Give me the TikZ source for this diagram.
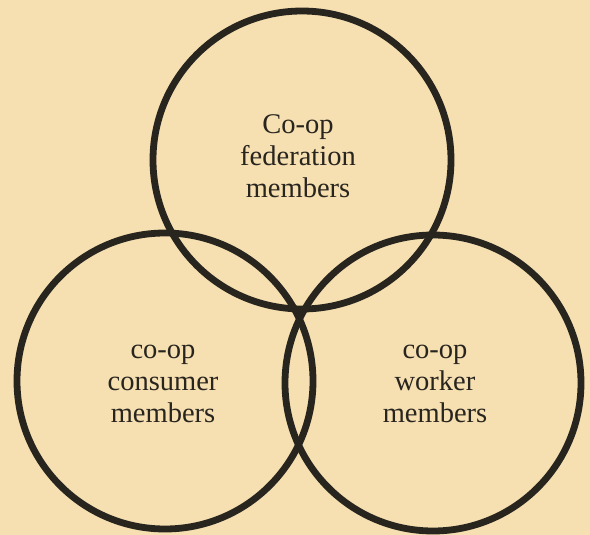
\documentclass[tikz,border=0pt]{standalone}
\usepackage{fontspec}
\setmainfont{Liberation Serif}
\definecolor{paper}{RGB}{246,224,178}
\definecolor{ink}{RGB}{40,36,30}
\tikzset{
  venn/.style={circle, draw=ink, line width=6.8pt, inner sep=0pt, minimum size=#1},
  vlabel/.style={align=center, text=ink, font=\fontsize{28.5}{32}\selectfont, inner sep=0pt}
}
\begin{document}
\begin{tikzpicture}[x=1pt,y=-1pt]
  \fill[paper] (0,0) rectangle (590,535);
  \useasboundingbox (0,0) rectangle (590,535);
  \node[venn=298pt] (fed) at (302,160) {};
  \node[venn=296pt] (cons) at (165,381) {};
  \node[venn=296pt] (work) at (433,383) {};
  \node[vlabel] (fedl) at (298,156) {Co-op\\federation\\members};
  \node[vlabel] (consl) at (163,384) {co-op\\consumer\\members};
  \node[vlabel] (workl) at (435,384) {co-op\\worker\\members};
\end{tikzpicture}
\end{document}
